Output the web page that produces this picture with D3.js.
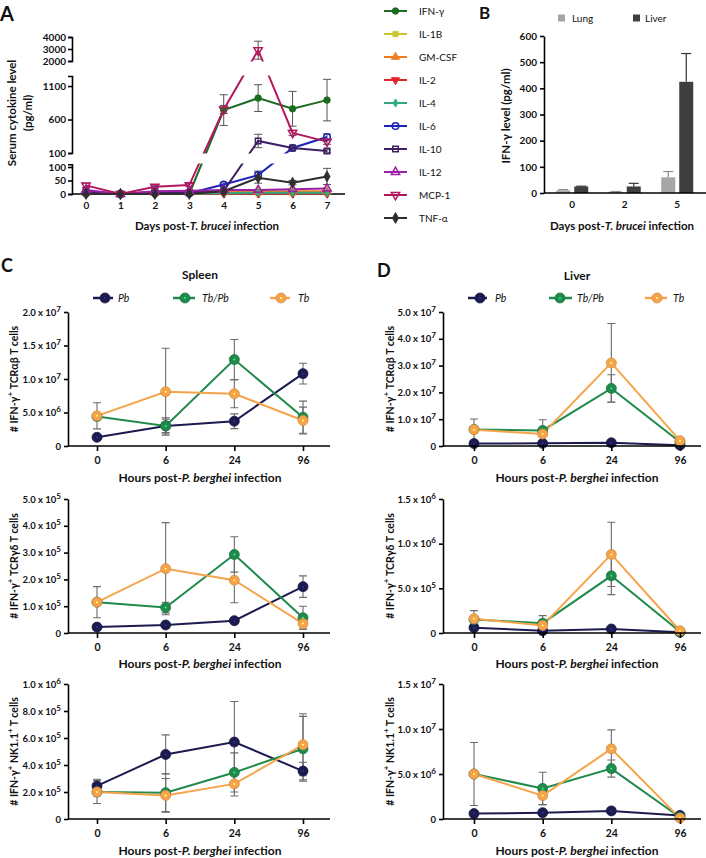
<!DOCTYPE html>
<html><head><meta charset="utf-8">
<script src="https://cdn.jsdelivr.net/npm/d3@7"></script>
<style>
body{margin:0;background:#fff;}
svg text{font-family:Lato,'Open Sans','DejaVu Sans',sans-serif;fill:#111;}
.ax path,.ax line{stroke:#000;stroke-width:1.6;}
.ax text{font-size:10px;font-weight:700;fill:#111;}
</style></head><body>
<svg id="fig" width="706" height="858"></svg>
<script>
// ---------- Panel A data ----------
const days=[0,1,2,3,4,5,6,7];
const cytokines=["IFN-γ","IL-1B","GM-CSF","IL-2","IL-4","IL-6","IL-10","IL-12","MCP-1","TNF-α"];
const valIFNg=[0,0,0,0,740,920,760,890];
const sdIFNg=[0,0,0,0,230,200,260,310];
const valIL1B=[2,0,2,2,3,3,3,3];
const valGMCSF=[3,0,3,3,8,10,10,10];
const valIL2=[1,0,1,1,2,2,2,2];
const valIL4=[1,0,1,1,4,5,5,5];
const valIL6=[5,0,5,3,35,70,175,340];
const sdIL6=[0,0,0,0,6,15,20,45];
const valIL10=[10,0,8,6,12,280,175,130];
const sdIL10=[0,0,0,0,0,100,15,20];
const valIL12=[15,0,10,12,15,15,18,20];
const valMCP1=[32,0,27,33,750,2900,400,270];
const sdMCP1=[8,0,5,6,60,750,40,40];
const valTNFa=[0,0,0,0,10,60,42,65];
const sdTNFa=[0,0,0,0,5,20,8,30];
const noSD=[0,0,0,0,0,0,0,0];
const ticksBot=[0,50,100], ticksMid=[100,600,1100], ticksTop=[2000,3000,4000];

// ---------- Panel B data ----------
const groupsB=["0","2","5"];
const seriesB=["Lung","Liver"];
const lungMean=[10,5,60], lungSD=[3,1,22];
const liverMean=[25,25,425], liverSD=[1,12,108];
const ticksB=[0,100,200,300,400,500,600];

// ---------- Panels C/D data ----------
const hours=["0","6","24","96"];
const infGroups=["Pb","Tb/Pb","Tb"];
// order of rows in each array: Pb, Tb/Pb, Tb
const spleenAB=[[1.3e6,3.0e6,3.7e6,1.08e7],[4.4e6,3.0e6,1.29e7,4.3e6],[4.5e6,8.1e6,7.8e6,3.8e6]];
const spleenABsd=[[0.3e6,1.0e6,1.1e6,1.55e6],[0.5e6,1.2e6,3.0e6,2.4e6],[1.95e6,6.5e6,2.1e6,2.0e6]];
const spleenGD=[[2.2e4,3.0e4,4.6e4,1.73e5],[1.15e5,0.95e5,2.93e5,5.7e4],[1.15e5,2.4e5,1.97e5,3.5e4]];
const spleenGDsd=[[0.3e4,0.5e4,0.5e4,0.4e5],[0.1e5,0.2e5,0.66e5,0.43e5],[0.58e5,1.72e5,0.84e5,0.2e5]];
const spleenNK=[[2.45e5,4.78e5,5.7e5,3.55e5],[2.0e5,1.95e5,3.45e5,5.2e5],[2.0e5,1.75e5,2.6e5,5.5e5]];
const spleenNKsd=[[0.5e5,1.45e5,3.0e5,0.65e5],[0.3e5,1.4e5,1.45e5,2.4e5],[0.85e5,1.25e5,0.9e5,2.3e5]];
const liverAB=[[0.9e6,1.0e6,1.2e6,0.3e6],[6.2e6,5.8e6,2.15e7,1.5e6],[6.1e6,4.5e6,3.1e7,2.0e6]];
const liverABsd=[[0.2e6,0.2e6,0.3e6,0.1e6],[0.8e6,4.0e6,5.1e6,0.3e6],[4.0e6,1.0e6,1.47e7,0.5e6]];
const liverGD=[[6e4,2.5e4,4.5e4,0.8e4],[1.5e5,1.1e5,6.4e5,1.5e4],[1.6e5,0.85e5,8.8e5,2.5e4]];
const liverGDsd=[[1e4,0.5e4,1e4,0.2e4],[0.3e5,0.85e5,2.1e5,0.5e4],[0.9e5,0.3e5,3.6e5,0.5e4]];
const liverNK=[[0.6e6,0.7e6,0.9e6,0.4e6],[5.0e6,3.4e6,5.6e6,0.2e6],[5.0e6,2.6e6,7.8e6,0.1e6]];
const liverNKsd=[[0.1e6,0.1e6,0.15e6,0.05e6],[0.3e6,1.8e6,0.95e6,0.1e6],[3.5e6,1.0e6,2.1e6,0.05e6]];
const ticksSpleenAB=[0,5e6,1e7,1.5e7,2e7], ticksSpleenGD=[0,1e5,2e5,3e5,4e5,5e5], ticksSpleenNK=[0,2e5,4e5,6e5,8e5,1e6];
const ticksLiverAB=[0,1e7,2e7,3e7,4e7,5e7], ticksLiverGD=[0,5e5,1e6,1.5e6], ticksLiverNK=[0,5e6,1e7,1.5e7];

// ---------- drawing ----------
const svg=d3.select("#fig");
svg.append("rect").attr("width",706).attr("height",858).attr("fill","#fff");
const defs=svg.append("defs");

function panelLabel(t,x,y,s){svg.append("text").attr("x",x).attr("y",y).attr("font-size",s).attr("font-weight",700).text(t);}
panelLabel("A",0,21,20); panelLabel("B",479,19,17); panelLabel("C",1,272,18); panelLabel("D",377,277,18);

function mixedTitle(g,parts,size){ // parts: [text, italic]
  parts.forEach(p=>g.append("tspan").attr("font-style",p[1]?"italic":"normal").text(p[0]));
  g.attr("font-size",size).attr("font-weight",700);
}

// ===== Panel A =====
const cytoValues=[valIFNg,valIL1B,valGMCSF,valIL2,valIL4,valIL6,valIL10,valIL12,valMCP1,valTNFa];
const cytoSD=[sdIFNg,noSD,noSD,noSD,noSD,sdIL6,sdIL10,noSD,sdMCP1,sdTNFa];
const cytoColors=["#1c6b21","#c9c431","#ee7d22","#e3262b","#2ea982","#1c23b8","#3f1f63","#9b1fa6","#b3175f","#2e2e2e"];
const symTypes=[d3.symbolCircle,d3.symbolSquare,d3.symbolTriangle,d3.symbolTriangle,d3.symbolDiamond,d3.symbolCircle,d3.symbolSquare,d3.symbolTriangle,d3.symbolTriangle,d3.symbolDiamond];
const symRot=[0,0,0,180,0,0,0,0,180,0];
const symOpen=[false,false,false,false,false,true,true,true,true,false];
const symSize=[34,28,30,30,20,34,30,30,30,34];

const xA=d3.scaleLinear().domain([0,7]).range([86,327]);
const yBot=d3.scaleLinear().domain([0,110]).range([194,164.3]);
const yMid=d3.scaleLinear().domain([100,1250]).range([153,76]);
const yTop=d3.scaleLinear().domain([2000,4000]).range([61,37]);
const yGap=d3.scaleLinear().domain([1250,2000]).range([76,61]);
function yA(v){return v<=100?yBot(v):v<=1250?yMid(v):v<2000?yGap(v):yTop(v);}

[[yBot,ticksBot],[yMid,ticksMid],[yTop,ticksTop]].forEach(([s,t])=>{
  svg.append("g").attr("class","ax").attr("transform","translate(72,0)")
    .call(d3.axisLeft(s).tickValues(t).tickSize(4).tickSizeOuter(4).tickPadding(2).tickFormat(d3.format("d")));
});
const gxA=svg.append("g").attr("class","ax").attr("transform","translate(0,194)")
  .call(d3.axisBottom(xA).tickValues(days).tickSize(4).tickPadding(4).tickFormat(d3.format("d")));
gxA.select(".domain").remove();
gxA.append("line").attr("x1",72).attr("x2",345).attr("stroke","#000").attr("stroke-width",1.6);

const clipA=defs.append("clipPath").attr("id","clipA");
[[35,61.5],[75.5,153.5],[163.5,197]].forEach(([a,b])=>clipA.append("rect").attr("x",72).attr("y",a).attr("width",280).attr("height",b-a));

const gAe=svg.append("g").attr("clip-path","url(#clipA)");
const gAl=svg.append("g").attr("clip-path","url(#clipA)");
const gAm=svg.append("g");
function drawSym(g,i,x,y){
  g.append("path").attr("d",d3.symbol().type(symTypes[i]).size(symSize[i])())
   .attr("transform",`translate(${x},${y}) rotate(${symRot[i]})`)
   .attr("fill",symOpen[i]?"none":cytoColors[i]).attr("stroke",cytoColors[i]).attr("stroke-width",symOpen[i]?1.5:0.8);
}
cytokines.forEach((c,i)=>{
  const pts=days.map((d,j)=>({d,v:cytoValues[i][j],s:cytoSD[i][j]}));
  pts.filter(p=>p.s>0).forEach(p=>{
    const x=xA(p.d), y1=yA(p.v+p.s), y2=yA(Math.max(0,p.v-p.s));
    gAe.append("path").attr("d",`M${x},${y1}V${y2}M${x-4},${y1}H${x+4}M${x-4},${y2}H${x+4}`)
      .attr("stroke","#555").attr("stroke-width",1).attr("fill","none");
  });
  gAl.append("path").datum(pts).attr("d",d3.line().x(p=>xA(p.d)).y(p=>yA(p.v)))
    .attr("fill","none").attr("stroke",cytoColors[i]).attr("stroke-width",2);
  pts.forEach(p=>drawSym(gAm,i,xA(p.d),yA(p.v)));
});
// legend A
cytokines.forEach((c,i)=>{
  const y=11+i*23;
  svg.append("line").attr("x1",384).attr("x2",407).attr("y1",y).attr("y2",y).attr("stroke",cytoColors[i]).attr("stroke-width",2);
  drawSym(svg,i,395.5,y);
  svg.append("text").attr("x",419).attr("y",y).attr("dy","0.35em").attr("font-size",10).text(c);
});
svg.append("text").attr("transform","translate(11,113) rotate(-90)").attr("text-anchor","middle").attr("dominant-baseline","central")
  .attr("font-size",11.5).attr("font-weight",700).text("Serum cytokine level");
svg.append("text").attr("transform","translate(27,113) rotate(-90)").attr("text-anchor","middle").attr("dominant-baseline","central")
  .attr("font-size",11.5).attr("font-weight",700).text("(pg/ml)");
mixedTitle(svg.append("text").attr("x",207).attr("y",230).attr("text-anchor","middle"),[["Days post-",0],["T. brucei",1],[" infection",0]],11.5);

// ===== Panel B =====
const x0B=d3.scaleBand().domain(groupsB).range([546,703.5]);
const x1B=d3.scaleBand().domain(seriesB).range([10.25,42.25]).paddingInner(0.222);
const yB=d3.scaleLinear().domain([0,600]).range([193,36]);
const bColors={Lung:"#a6a6a6",Liver:"#3f3f3f"};
const bErr={Lung:"#8a8a8a",Liver:"#333"};
const bMeans={Lung:lungMean,Liver:liverMean}, bSDs={Lung:lungSD,Liver:liverSD};
seriesB.forEach(s=>{
  groupsB.forEach((g,j)=>{
    const v=bMeans[s][j], sd=bSDs[s][j];
    const x=x0B(g)+x1B(s), w=x1B.bandwidth(), cx=x+w/2;
    svg.append("line").attr("x1",cx).attr("x2",cx).attr("y1",yB(v)).attr("y2",yB(v+sd)).attr("stroke",bErr[s]).attr("stroke-width",1.2);
    svg.append("line").attr("x1",cx-5).attr("x2",cx+5).attr("y1",yB(v+sd)).attr("y2",yB(v+sd)).attr("stroke",bErr[s]).attr("stroke-width",1.2);
    svg.append("rect").attr("x",x).attr("width",w).attr("y",yB(v)).attr("height",193-yB(v)).attr("fill",bColors[s]);
  });
});
svg.append("g").attr("class","ax").attr("transform","translate(544,0)")
  .call(d3.axisLeft(yB).tickValues(ticksB).tickSize(4).tickSizeOuter(0).tickPadding(3));
const gxB=svg.append("g").attr("class","ax").attr("transform","translate(0,193)").call(d3.axisBottom(x0B).tickSize(0).tickPadding(8));
gxB.select(".domain").remove();
gxB.append("line").attr("x1",544).attr("x2",706).attr("stroke","#000").attr("stroke-width",1.6);
[["Lung",558,572],["Liver",633,645]].forEach(([s,rx,tx])=>{
  svg.append("rect").attr("x",rx).attr("y",14.5).attr("width",7).attr("height",7).attr("fill",bColors[s]);
  svg.append("text").attr("x",tx).attr("y",18).attr("dy","0.35em").attr("font-size",10).text(s);
});
svg.append("text").attr("transform","translate(505,116) rotate(-90)").attr("text-anchor","middle").attr("dominant-baseline","central")
  .attr("font-size",11.5).attr("font-weight",700).text("IFN-γ level (pg/ml)");
mixedTitle(svg.append("text").attr("x",622).attr("y",230).attr("text-anchor","middle"),[["Days post-",0],["T. brucei",1],[" infection",0]],11.5);

// ===== Panels C / D =====
const infColors=["#1c1b4f","#1f8a4b","#f6a44b"];
const colsCfg={C:{ax:68,axEnd:330,xr:[97,303],titleX:14},D:{ax:443,axEnd:701,xr:[474,680],titleX:390}};
const rowsCfg=[{top:312,bottom:446,titleY:482},{top:499,bottom:633,titleY:668},{top:684,bottom:819,titleY:855}];
const charts=[
  {col:"C",row:0,mean:spleenAB,sd:spleenABsd,ticks:ticksSpleenAB,cell:"TCRαβ"},
  {col:"C",row:1,mean:spleenGD,sd:spleenGDsd,ticks:ticksSpleenGD,cell:"TCRγδ"},
  {col:"C",row:2,mean:spleenNK,sd:spleenNKsd,ticks:ticksSpleenNK,cell:"NK"},
  {col:"D",row:0,mean:liverAB,sd:liverABsd,ticks:ticksLiverAB,cell:"TCRαβ"},
  {col:"D",row:1,mean:liverGD,sd:liverGDsd,ticks:ticksLiverGD,cell:"TCRγδ"},
  {col:"D",row:2,mean:liverNK,sd:liverNKsd,ticks:ticksLiverNK,cell:"NK"}
];
function sciLabel(sel){
  sel.each(function(d){
    const t=d3.select(this); t.text(null);
    if(d===0){t.text("0");return;}
    const e=Math.floor(Math.log10(d)+1e-9), m=d/Math.pow(10,e);
    t.append("tspan").text(m.toFixed(1)+" x 10");
    t.append("tspan").attr("dy","-0.5em").attr("font-size","0.85em").text(e);
  });
}
function marker(g,x,y,c,r){
  g.append("circle").attr("cx",x).attr("cy",y).attr("r",r).attr("fill",c).attr("stroke",d3.color(c).darker(0.4)).attr("stroke-width",0.8);
  g.append("circle").attr("cx",x).attr("cy",y).attr("r",1).attr("fill",d3.color(c).brighter(1.6));
}
charts.forEach(ch=>{
  const C=colsCfg[ch.col], R=rowsCfg[ch.row];
  const x=d3.scalePoint().domain(hours).range(C.xr);
  const ymax=ch.ticks[ch.ticks.length-1];
  const y=d3.scaleLinear().domain([0,ymax]).range([R.bottom,R.top]);
  const g=svg.append("g");
  ch.mean.forEach((ser,si)=>ser.forEach((v,j)=>{
    const sd=ch.sd[si][j], cx=x(hours[j]), y1=y(v+sd), y2=y(Math.max(0,v-sd));
    g.append("path").attr("d",`M${cx},${y1}V${y2}M${cx-4},${y1}H${cx+4}M${cx-4},${y2}H${cx+4}`)
      .attr("stroke","#6b6b6b").attr("stroke-width",1.1).attr("fill","none");
  }));
  ch.mean.forEach((ser,si)=>{
    g.append("path").datum(ser).attr("d",d3.line().x((v,j)=>x(hours[j])).y(v=>y(v)))
      .attr("fill","none").attr("stroke",infColors[si]).attr("stroke-width",2);
  });
  ch.mean.forEach((ser,si)=>ser.forEach((v,j)=>marker(g,x(hours[j]),y(v),infColors[si],5)));
  const gy=svg.append("g").attr("class","ax").attr("transform",`translate(${C.ax},0)`)
    .call(d3.axisLeft(y).tickValues(ch.ticks).tickSize(4).tickSizeOuter(0).tickPadding(3));
  gy.selectAll(".tick text").style("font-size","9.5px").call(sciLabel);
  const gx=svg.append("g").attr("class","ax").attr("transform",`translate(0,${R.bottom})`)
    .call(d3.axisBottom(x).tickSize(5).tickPadding(6));
  gx.selectAll(".tick text").style("font-size","10.5px");
  gx.select(".domain").remove();
  gx.append("line").attr("x1",C.ax).attr("x2",C.axEnd).attr("stroke","#000").attr("stroke-width",1.6);
  mixedTitle(svg.append("text").attr("x",(C.xr[0]+C.xr[1])/2).attr("y",R.titleY).attr("text-anchor","middle"),
    [["Hours post-",0],["P. berghei",1],[" infection",0]],12);
  const yt=svg.append("text").attr("transform",`translate(${C.titleX},${(R.top+R.bottom)/2}) rotate(-90)`)
    .attr("text-anchor","middle").attr("dominant-baseline","central").attr("font-size",10.5).attr("font-weight",700);
  yt.append("tspan").text("# IFN-γ");
  yt.append("tspan").attr("dy",-4).attr("font-size",8).text("+");
  if(ch.cell==="NK"){
    yt.append("tspan").attr("dy",4).text(" NK1.1");
    yt.append("tspan").attr("dy",-4).attr("font-size",8).text("+");
    yt.append("tspan").attr("dy",4).text(" T cells");
  } else {
    yt.append("tspan").attr("dy",4).text(" "+ch.cell+" T cells");
  }
});
[["Spleen",200,279],["Liver",577,280]].forEach(([t,x,y])=>svg.append("text").attr("x",x).attr("y",y).attr("text-anchor","middle").attr("font-size",12).attr("font-weight",700).text(t));
const legPos={C:[[93,113,105,118],[173,195,185,202],[270,290,281,298]],D:[[468,487,480,495],[549,572,560,577],[645,667,657,673]]};
Object.keys(legPos).forEach(k=>{
  legPos[k].forEach((p,i)=>{
    svg.append("line").attr("x1",p[0]).attr("x2",p[1]).attr("y1",298).attr("y2",298).attr("stroke",infColors[i]).attr("stroke-width",2.5);
    marker(svg,p[2],298,infColors[i],5);
    svg.append("text").attr("x",p[3]).attr("y",298).attr("dy","0.35em").attr("font-size",10.5).attr("font-style","italic").text(infGroups[i]);
  });
});
</script>
</body></html>
